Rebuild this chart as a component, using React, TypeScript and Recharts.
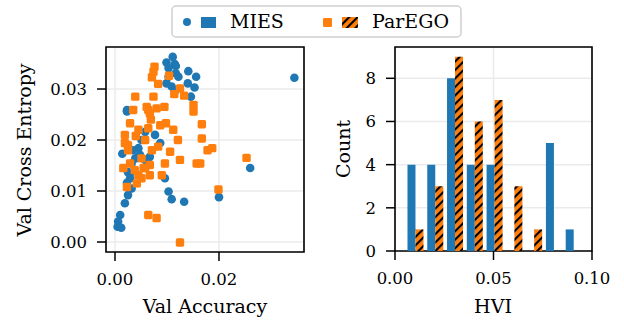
import React from 'react';
import { ScatterChart, Scatter, BarChart, Bar, XAxis, YAxis, CartesianGrid, ReferenceArea } from 'recharts';

const BLUE = '#1f77b4';
const ORANGE = '#ff7f0e';
const FONT = '"DejaVu Serif", serif';
const GRID = '#ebebeb';

// scatter: val accuracy / val cross entropy per run
const miesAcc = [
  0.0111, 0.0099, 0.0115, 0.0117, 0.0103, 0.0141, 0.0117, 0.0122, 0.0156, 0.0103,
  0.0099, 0.014, 0.0109, 0.0153, 0.0115, 0.0146, 0.0023, 0.0023, 0.0058, 0.0077,
  0.0051, 0.0087, 0.0045, 0.0067, 0.0039, 0.0014, 0.0032, 0.0029, 0.0029, 0.0032,
  0.0019, 0.001, 0.0006, 0.0005, 0.0096, 0.0103, 0.0109, 0.0133, 0.0345, 0.026,
  0.02, 0.0058, 0.0025, 0.0012, 0.0023, 0.0048, 0.0035, 0.0025,
];
const miesCe = [
  0.0363, 0.0352, 0.0349, 0.0345, 0.0341, 0.0335, 0.0331, 0.0324, 0.0324, 0.0324,
  0.0311, 0.0311, 0.0305, 0.0303, 0.0295, 0.0285, 0.0259, 0.0256, 0.0216, 0.021,
  0.02, 0.0194, 0.0184, 0.0167, 0.0164, 0.0173, 0.0154, 0.0135, 0.0125, 0.0105,
  0.0076, 0.0053, 0.004, 0.003, 0.0125, 0.0099, 0.0084, 0.0079, 0.0322, 0.0145,
  0.0088, 0.0161, 0.0092, 0.0028, 0.0116, 0.0171, 0.018, 0.0137,
];
const paregoAcc = [
  0.0076, 0.0074, 0.0071, 0.0104, 0.0083, 0.0125, 0.0114, 0.0133, 0.0039, 0.0074,
  0.0151, 0.0095, 0.0061, 0.008, 0.0035, 0.0064, 0.0067, 0.0151, 0.0029, 0.0167,
  0.0098, 0.0112, 0.0064, 0.0045, 0.0019, 0.0121, 0.0167, 0.0178, 0.0106, 0.0083,
  0.0125, 0.0029, 0.0051, 0.0096, 0.0058, 0.0016, 0.0157, 0.009, 0.0045, 0.0023,
  0.0051, 0.0064, 0.008, 0.0125, 0.0253, 0.0199, 0.0187, 0.0164, 0.0067, 0.0025,
  0.0069, 0.0042, 0.0055, 0.004, 0.0025, 0.0058, 0.0071, 0.0038, 0.0067, 0.0019,
  0.0087,
];
const paregoCe = [
  0.0344, 0.0334, 0.0323, 0.0326, 0.031, 0.0301, 0.029, 0.0287, 0.0285, 0.0285,
  0.0269, 0.0265, 0.0265, 0.0262, 0.0259, 0.0259, 0.0252, 0.0256, 0.0233, 0.0231,
  0.0233, 0.022, 0.0223, 0.022, 0.0194, 0.02, 0.0203, 0.018, 0.0177, 0.0187,
  0.0161, 0.0154, 0.0164, 0.0154, 0.0145, 0.0145, 0.0154, 0.0131, 0.0131, 0.0108,
  0.0125, 0.0053, 0.0047, -0.0001, 0.0165, 0.0103, 0.0184, 0.0154, 0.0131, 0.018,
  0.024, 0.0115, 0.0145, 0.0208, 0.019, 0.02, 0.018, 0.0141, 0.0151, 0.021,
  0.0229,
];

// histogram: HVI bin centres and counts
const hviBins = [0.01035, 0.02039, 0.03043, 0.04047, 0.05051, 0.06055, 0.07059, 0.08063, 0.09067];
const miesCounts = [4, 4, 8, 4, 4, 0, 0, 5, 1];
const paregoCounts = [1, 3, 9, 6, 7, 3, 1, 0, 0];

const accTicks = [0, 0.02];
const ceTicks = [0, 0.01, 0.02, 0.03];
const hviTicks = [0, 0.05, 0.1];
const countTicks = [0, 2, 4, 6, 8];

const X_DOM: [number, number] = [-0.00173, 0.03635];
const Y_DOM: [number, number] = [-0.00196, 0.03824];
const H_DOM: [number, number] = [0, 0.1];
const C_DOM: [number, number] = [0, 9.45];

const miesPts = miesAcc.map((x, i) => ({ x, y: miesCe[i] }));
const paregoPts = paregoAcc.map((x, i) => ({ x, y: paregoCe[i] }));
const histData = hviBins.map((hvi, i) => ({ hvi, mies: miesCounts[i], parego: paregoCounts[i] }));

const tickStyle = { fill: '#000', fontSize: 16.5, fontFamily: FONT };
const tickLine = { stroke: '#000', strokeWidth: 1.5 };

const Dot = (p: any) => <circle cx={p.cx} cy={p.cy} r={4.3} fill={BLUE} />;
const Sq = (p: any) => (
  <rect x={p.cx - 4.2} y={p.cy - 4.2} width={8.4} height={8.4} rx={1.6} fill={ORANGE} />
);

function Overlay() {
  return (
    <svg width={624} height={324} style={{ position: 'absolute', left: 0, top: 0, pointerEvents: 'none' }}>
      <defs>
        <pattern id="hatch" patternUnits="userSpaceOnUse" width={6} height={6} patternTransform="rotate(45)">
          <rect x={0} y={0} width={6} height={6} fill={ORANGE} />
          <rect x={0} y={0} width={2.1} height={6} fill="#000" />
        </pattern>
      </defs>
      <rect x={172} y={6} width={289} height={31} rx={4} fill="#fff" stroke="#d0d0d0" strokeWidth={1.5} />
      <circle cx={187} cy={22} r={4} fill={BLUE} />
      <rect x={201} y={17} width={15} height={11} fill={BLUE} />
      <text x={230} y={28} fontFamily={FONT} fontSize={19} fill="#000">MIES</text>
      <rect x={323} y={18} width={9} height={9} rx={1.2} fill={ORANGE} />
      <rect x={342} y={17} width={16} height={11} fill="url(#hatch)" />
      <text x={372} y={28} fontFamily={FONT} fontSize={19} fill="#000">ParEGO</text>

      <text x={205} y={313} textAnchor="middle" fontFamily={FONT} fontSize={19} fill="#000">Val Accuracy</text>
      <text x={31} y={150} textAnchor="middle" fontFamily={FONT} fontSize={19} fill="#000" transform="rotate(-90 31 150)">Val Cross Entropy</text>
      <text x={493} y={313} textAnchor="middle" fontFamily={FONT} fontSize={19} fill="#000">HVI</text>
      <text x={350} y={149} textAnchor="middle" fontFamily={FONT} fontSize={19} fill="#000" transform="rotate(-90 350 149)">Count</text>
    </svg>
  );
}

export default function App() {
  return (
    <div style={{ position: 'absolute', left: 0, top: 0, width: 624, height: 324, background: '#fff' }}>
      <div style={{ position: 'absolute', left: 0, top: 0 }}>
        <ScatterChart width={320} height={324} margin={{ top: 47, right: 16, bottom: 0, left: 0 }}>
          <CartesianGrid stroke={GRID} strokeWidth={1.5} />
          <XAxis type="number" dataKey="x" domain={X_DOM} ticks={accTicks} allowDataOverflow
            tickFormatter={(v: number) => v.toFixed(2)} axisLine={false} tickLine={tickLine}
            tickSize={9} tickMargin={12} tick={tickStyle} height={72} />
          <YAxis type="number" dataKey="y" domain={Y_DOM} ticks={ceTicks} allowDataOverflow
            tickFormatter={(v: number) => v.toFixed(2)} axisLine={false} tickLine={tickLine}
            tickSize={9} tickMargin={10} tick={tickStyle} width={106} />
          <Scatter data={miesPts} shape={Dot} isAnimationActive={false} />
          <Scatter data={paregoPts} shape={Sq} isAnimationActive={false} />
          <ReferenceArea x1={X_DOM[0]} x2={X_DOM[1]} y1={Y_DOM[0]} y2={Y_DOM[1]} fill="none" fillOpacity={0}
            stroke="#000" strokeWidth={1.6} ifOverflow="visible" />
        </ScatterChart>
      </div>
      <div style={{ position: 'absolute', left: 320, top: 0 }}>
        <BarChart width={304} height={324} data={histData} margin={{ top: 47, right: 32, bottom: 0, left: 0 }}
          barCategoryGap="10%" barGap={0}>
          <CartesianGrid stroke={GRID} strokeWidth={1.5} />
          <XAxis type="number" dataKey="hvi" domain={H_DOM} ticks={hviTicks} allowDataOverflow
            tickFormatter={(v: number) => v.toFixed(2)} axisLine={false} tickLine={tickLine}
            tickSize={9} tickMargin={12} tick={tickStyle} height={73} />
          <YAxis type="number" domain={C_DOM} ticks={countTicks} allowDataOverflow
            axisLine={false} tickLine={tickLine}
            tickSize={9} tickMargin={10} tick={tickStyle} width={75} />
          <Bar dataKey="mies" fill={BLUE} isAnimationActive={false} />
          <Bar dataKey="parego" fill="url(#hatch)" isAnimationActive={false} />
          <ReferenceArea x1={H_DOM[0]} x2={H_DOM[1]} y1={C_DOM[0]} y2={C_DOM[1]} fill="none" fillOpacity={0}
            stroke="#000" strokeWidth={1.6} ifOverflow="visible" />
        </BarChart>
      </div>
      <Overlay />
    </div>
  );
}
